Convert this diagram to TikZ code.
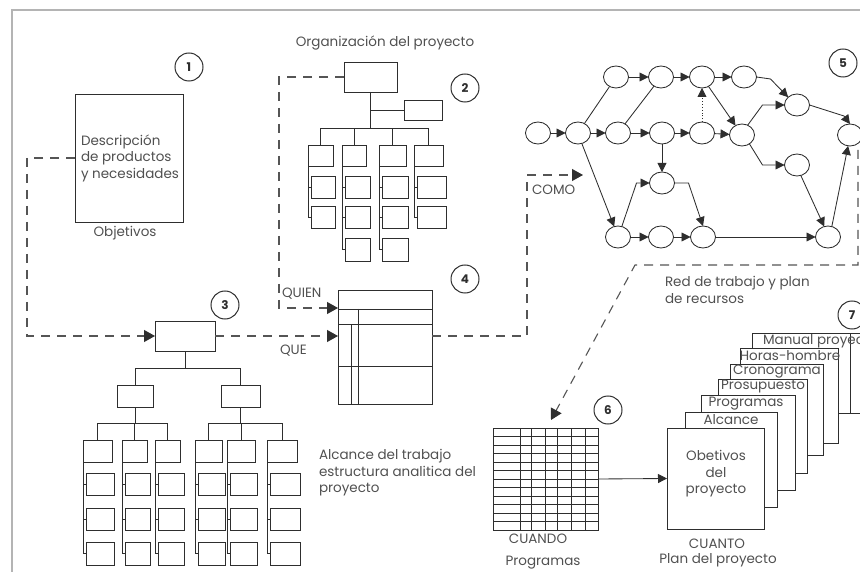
\documentclass[tikz,border=0pt]{standalone}
\usepackage{fontspec}
\setmainfont{Poppins}
\usetikzlibrary{arrows.meta,shapes.geometric,calc}

\definecolor{ink}{HTML}{2E2E2E}
\definecolor{txt}{HTML}{505050}
\definecolor{dash}{HTML}{555555}
\definecolor{rule}{HTML}{B4B4B4}

% rectangle node given by its two corners: [options]{name}{x1}{y1}{x2}{y2}
\newcommand\rbox[6][]{%
  \pgfmathsetmacro\rbw{(#5)-(#3)}%
  \pgfmathsetmacro\rbh{(#6)-(#4)}%
  \pgfmathsetmacro\rbx{((#3)+(#5))/2}%
  \pgfmathsetmacro\rby{((#4)+(#6))/2}%
  \node[bx,#1,minimum width=\rbw pt,minimum height=\rbh pt] (#2) at (\rbx,\rby) {};}

\begin{document}
\begin{tikzpicture}[x=1pt,y=-1pt,line width=0.85pt,color=ink,
  every node/.style={inner sep=0pt,outer sep=0pt},
  lbl/.style={text=txt,font=\fontsize{13.5}{16.5}\selectfont},
  num/.style={circle,draw=ink,line width=1pt,minimum size=28pt,text=ink,
    font=\bfseries\fontsize{12}{14}\selectfont},
  bx/.style={draw=ink,fill=white,rectangle},
  ev/.style={ellipse,draw=ink,minimum width=25pt,minimum height=22pt},
  net/.style={-{Triangle[length=9pt,width=9pt]}},
  flow/.style={draw=dash,dash pattern=on 9pt off 7pt,line width=1.1pt},
  flowarr/.style={flow,-{Triangle[length=11pt,width=12pt,color=ink]}},
]
\useasboundingbox (0,0) rectangle (860,572);

% outer frame
\draw[rule,line width=1.2pt] (12,620) -- (12,10) -- (900,10);

% ---------- 1: objectives ----------
\node[num] (n1c) at (189,67) {1};
\rbox{desc}{75}{94}{183}{222}
\node[lbl,anchor=west,align=left] (desct) at (81,158) {Descripción\\de productos\\y necesidades};
\node[lbl] (objt) at (125,233) {Objetivos};

% ---------- 2: project organisation ----------
\node[lbl] (orgt) at (385,43) {Organización del proyecto};
\node[num] (n2c) at (465,88) {2};
\rbox{o0}{344}{62}{397}{92}
\rbox{oa}{404}{100}{442}{120}
\coordinate (obar) at (0,128);
\foreach \c/\L/\wa/\wb/\nr in {1/308/25/24/3,2/342/24/25/4,3/379/27/26/4,4/414/29/29/3}{
  \rbox{o\c-1}{\L}{145}{\L+\wa}{166}
  \draw (o\c-1.north) -- (o\c-1.north |- obar);
  \foreach \r/\ya/\yb in {2/176/198,3/206/228,4/238/261}{
    \ifnum\r>\nr\relax\else
      \rbox{o\c-\r}{\L+3}{\ya}{\L+3+\wb}{\yb}
      \draw (o\c-1.south west) -- (o\c-1.south west |- o\c-\r.west) -- (o\c-\r.west);
    \fi}
}
\draw (o0.south) -- (o0.south |- obar);
\draw (o0.south |- oa.west) -- (oa.west);
\draw (o1-1.north |- obar) -- (o4-1.north |- obar);

% ---------- 3: work breakdown ----------
\node[num] (n3c) at (225,305) {3};
\rbox{w0}{155}{321}{215}{351}
\rbox{wl}{117}{385}{153}{407}
\rbox{wr}{221}{385}{260}{407}
\coordinate (wbar) at (0,368);
\coordinate (wbar2) at (0,423);
\foreach \c/\L/\wa/\wb in {1/83/29/28,2/122/25/25,3/155/25/26,4/195/27/27,5/227/28/27,6/267/30/30}{
  \rbox{w\c-1}{\L}{440}{\L+\wa}{462}
  \draw (w\c-1.north) -- (w\c-1.north |- wbar2);
  \foreach \r/\ya/\yb in {2/473/495,3/508/530,4/542/565}{
    \rbox{w\c-\r}{\L+3}{\ya}{\L+3+\wb}{\yb}
    \draw (w\c-1.south west) -- (w\c-1.south west |- w\c-\r.west) -- (w\c-\r.west);
  }
}
\draw (w0.south) -- (w0.south |- wbar);
\draw (wl.north |- wbar) -- (wr.north |- wbar);
\draw (wl.north) -- (wl.north |- wbar);
\draw (wr.north) -- (wr.north |- wbar);
\draw (wl.south) -- (wl.south |- wbar2);
\draw (wr.south) -- (wr.south |- wbar2);
\draw (w1-1.north |- wbar2) -- (w3-1.north |- wbar2);
\draw (w4-1.north |- wbar2) -- (w6-1.north |- wbar2);
\node[lbl,anchor=west,align=left] (wbst) at (319,473) {Alcance del trabajo\\estructura analitica del\\proyecto};

% ---------- 4: responsibility matrix ----------
\node[num] (n4c) at (465,279) {4};
\rbox{mx}{338}{290}{432}{404}
\coordinate (mh1) at (0,309);
\coordinate (mh2) at (0,324);
\coordinate (mh3) at (0,366);
\coordinate (mv1) at (358,0);
\coordinate (mv2) at (351,0);
\foreach \h in {mh1,mh2,mh3} \draw (mx.west |- \h) -- (mx.east |- \h);
\draw (mv1 |- mh1) -- (mv1 |- mx.south);
\draw (mv2 |- mh2) -- (mv2 |- mx.south);
\node[lbl,anchor=west] (quient) at (282,294) {QUIEN};
\node[lbl,anchor=west] (quet) at (280,351) {QUE};

% ---------- 5: network ----------
\node[num] (n5c) at (843,63) {5};
\foreach \n/\x/\y in {t1/616/77,t2/661/77,t3/702/77,t4/744/77,
  m1/538/133,m2/578/133,m3/618/133,m4/662/133,m5/702/133,m6/742/135,
  n1/797/105,n2/662/183,n3/797/165,r/850/135,
  b1/618/237,b2/661/237,b3/703/237,b4/828/237}
  \node[ev] (\n) at (\x,\y) {};
\foreach \a/\b in {m1/m2,m2/m3,m3/m4,m4/m5,m5/m6,t1/t2,t2/t3,t3/t4,b1/b2,b2/b3,b3/b4}
  \draw[net] (\a) -- (\b);
\draw (m2) -- (t1);
\draw (m3) -- (t2);
\draw[net,dotted] (m5) -- (t3);
\draw[net] (t3) -- (m6);
\draw[net] (t4.east) -- ++(14,2) -- (n1.north west);
\draw[net] (m6.60) -- ($(n1.west)+(-22,0)$) -- (n1.west);
\draw[net] (n1.east) -- ($(r.north)+(-6,-8)$) -- (r.north);
\draw[net] (m6.-50) -- ($(n3.west)+(-22,0)$) -- (n3.west);
\draw[net] (n3.-70) -- (b4.110);
\draw[net] (b4.70) -- (r.-100);
\draw[net] (m2.-70) -- (b1.110);
\draw[net] (b1.70) -- ($(n2.west)+(-13,0)$) -- (n2.west);
\draw[net] (m4) -- (n2);
\draw[net] (n2.east) -- ++(14,0) -- (b3.north);
\node[lbl,anchor=west] (comot) at (532,190) {COMO};
\node[lbl,anchor=west,align=left] (redt) at (665,290) {Red de trabajo y plan\\de recursos};

% ---------- 6: schedule grid ----------
\node[num] (n6c) at (608,410) {6};
\rbox{gr}{493}{428}{598}{530}
\foreach \x in {520,531,545,557,571,585} \draw (\x,428) -- (\x,530);
\foreach \k in {1,...,11} \draw (493,{428+\k*102/12}) -- (598,{428+\k*102/12});
\node[lbl] (cuandot) at (538,539) {CUANDO};
\node[lbl] (progt) at (543,563) {Programas};

% ---------- 7: project plan stack ----------
\node[num] (n7c) at (852,315) {7};
\rbox{pg8}{765}{333}{900}{413}
\rbox{pg7}{752}{333}{850}{413}
\node[lbl,anchor=west] (tab7) at (763,341) {Manual proyecto};
\rbox{pg6}{740}{348}{838}{443}
\node[lbl] (tab6) at (790,356) {Horas-hombre};
\rbox{pg5}{730}{364}{823}{455}
\node[lbl] (tab5) at (777,372) {Cronograma};
\rbox{pg4}{718}{379}{807}{473}
\node[lbl] (tab4) at (763,387) {Prosupuesto};
\rbox{pg3}{701}{395}{795}{490}
\node[lbl] (tab3) at (746,404) {Programas};
\rbox{pg2}{685}{412}{777}{507}
\node[lbl] (tab2) at (731,420) {Alcance};
\rbox{pf}{667}{428}{764}{529}
\node[lbl,align=center] (pft) at (716,474) {Obetivos\\del\\proyecto};
\node[lbl] (cuantot) at (717,544) {CUANTO};
\node[lbl] (plant) at (718,560) {Plan del proyecto};
\draw[net] (gr.east) -- (pf.west);

% ---------- dashed flow between the stages ----------
\coordinate (qin) at (338,308);
\coordinate (como) at (583,175);
\coordinate (rdown) at (858,150);
\coordinate (gin) at (551,420);
\draw[flowarr] (desc.west) -- ++(-48,0) |- (w0.west);
\draw[flowarr] (w0.east) -- (w0.east -| mx.west);
\draw[flowarr] (o0.west) -- ++(-65,0) |- (qin);
\draw[flowarr] (mx.east |- w0.east) -- ++(95,0) |- (como);
\draw[flowarr] (rdown) -- ++(0,115) -- ++(-223,0) -- (gin);
\end{tikzpicture}
\end{document}
